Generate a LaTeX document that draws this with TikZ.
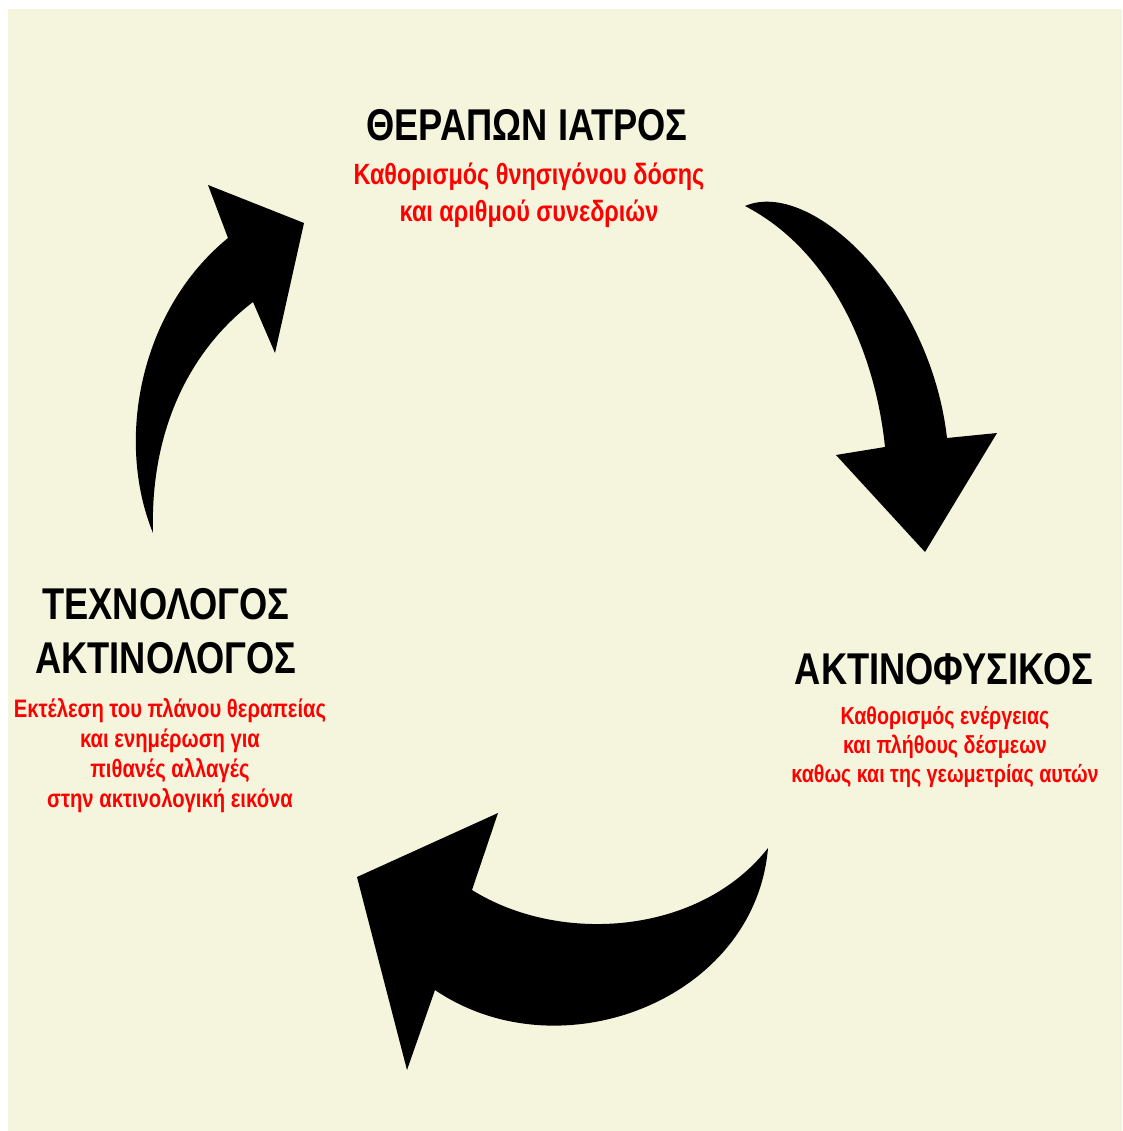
\documentclass[tikz,border=0pt]{standalone}
\usepackage{fontspec}
\newfontfamily\cond[FakeStretch=0.8]{Liberation Sans}
\newfontfamily\condt[FakeStretch=0.815]{Liberation Sans}
\definecolor{cream}{HTML}{F5F4DD}
\definecolor{txtred}{HTML}{FF0000}
\tikzset{
  title/.style={font=\condt\bfseries\fontsize{44.5}{54}\selectfont, text=black, align=center, inner sep=0pt},
  desc/.style={font=\cond\bfseries, text=txtred, align=center, inner sep=0pt},
  bigarrow/.style={fill=black, draw=none}
}
\begin{document}
\begin{tikzpicture}[x=1pt,y=-1pt]
\useasboundingbox (0,0) rectangle (1122,1131);
\fill[white] (0,0) rectangle (1122,1131);
\fill[cream] (8,9) rectangle (1122,1131);

% titles
\node[title] (doc) at (527,125) {ΘΕΡΑΠΩΝ ΙΑΤΡΟΣ};
\node[desc, font=\cond\bfseries\fontsize{29.3}{37}\selectfont] (docd) at (529,195)
  {Καθορισμός θνησιγόνου δόσης\\και αριθμού συνεδριών};

\node[title] (phys) at (944,669) {ΑΚΤΙΝΟΦΥΣΙΚΟΣ};
\node[desc, font=\cond\bfseries\fontsize{24.6}{29}\selectfont] (physd) at (945,747)
  {Καθορισμός ενέργειας\\και πλήθους δέσμεων\\καθως και της γεωμετρίας αυτών};

\node[title] (tech) at (166,631) {ΤΕΧΝΟΛΟΓΟΣ\\ΑΚΤΙΝΟΛΟΓΟΣ};
\node[desc, font=\cond\bfseries\fontsize{25.3}{30}\selectfont] (techd) at (170,756)
  {Εκτέλεση του πλάνου θεραπείας\\και ενημέρωση για\\πιθανές αλλαγές\\στην ακτινολογική εικόνα};

% curved arrows
\fill[bigarrow] (153,533) .. controls (115,440) and (140,310) .. (228,238)
  -- (208,185) -- (304,223) -- (275,353) -- (253,302)
  .. controls (190,350) and (150,430) .. (153,533) -- cycle;

\fill[bigarrow] (745,206) .. controls (810,178) and (930,290) .. (947,438)
  -- (997,433) -- (925,552) -- (836,455) -- (885,447)
  .. controls (875,350) and (830,250) .. (745,206) -- cycle;

\fill[bigarrow] (768,848) .. controls (755,1000) and (560,1075) .. (435,990)
  -- (407,1070) -- (357,877) -- (498,813) -- (472,890)
  .. controls (560,945) and (700,935) .. (768,848) -- cycle;
\end{tikzpicture}
\end{document}
